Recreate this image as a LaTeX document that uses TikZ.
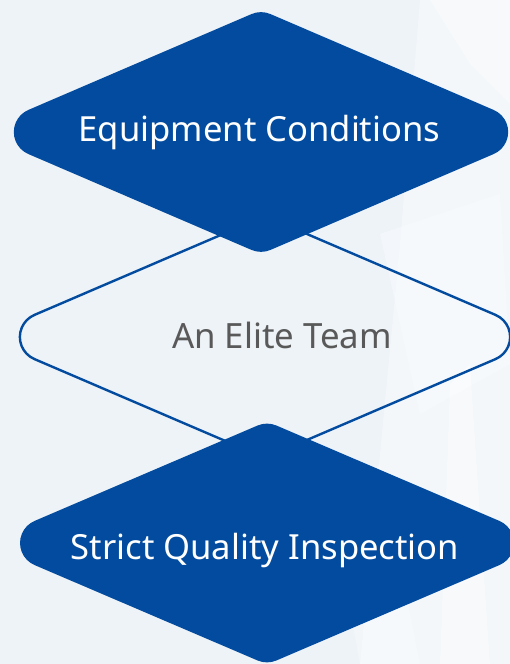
\documentclass[tikz,border=0pt]{standalone}
\usepackage{fontspec}
\setmainfont{Noto Sans}
\usetikzlibrary{calc}
\definecolor{navy}{RGB}{2,75,158}
\definecolor{bgc}{RGB}{238,243,248}
\definecolor{txtgray}{RGB}{89,89,89}
\tikzset{
  filledbox/.style={fill=navy},
  outlinebox/.style={draw=navy, line width=2.4pt},
  whitelabel/.style={text=white, font=\fontsize{34.6}{40}\selectfont, anchor=base, inner sep=0pt},
  graylabel/.style={text=txtgray, font=\fontsize{34.8}{40}\selectfont, anchor=base, inner sep=0pt},
  glass/.style={fill=white, draw=none},
}
% rounded rhombus: #1 cx, #2 cy, #3 half width, #4 half height, #5 style
\newcommand{\rrhombus}[5]{%
  \pgfmathsetmacro\rhAng{atan(#4/#3)}%
  \pgfmathsetmacro\rhTL{24/tan(\rhAng)}%
  \pgfmathsetmacro\rhTT{24*tan(\rhAng)}%
  \path[#5]
    ($(#1-#3,#2)+(\rhAng:\rhTL pt)$)
    -- ($(#1,#2+#4)+(180+\rhAng:\rhTT pt)$)
    arc[start angle=90+\rhAng, end angle=90-\rhAng, radius=24pt]
    -- ($(#1+#3,#2)+(180-\rhAng:\rhTL pt)$)
    arc[start angle=90-\rhAng, end angle=-90+\rhAng, radius=24pt]
    -- ($(#1,#2-#4)+(\rhAng:\rhTT pt)$)
    arc[start angle=-90+\rhAng, end angle=-90-\rhAng, radius=24pt]
    -- ($(#1-#3,#2)+(-\rhAng:\rhTL pt)$)
    arc[start angle=-90-\rhAng, end angle=-270+\rhAng, radius=24pt]
    -- cycle;%
}
\begin{document}
\begin{tikzpicture}[x=1pt, y=1pt]
  % background
  \fill[bgc] (0,0) rectangle (510,664);
  \useasboundingbox (0,0) rectangle (510,664);
  \begin{scope}
    \clip (0,0) rectangle (510,664);
    \fill[glass, opacity=0.35] (360,0) -- (510,0) -- (510,664) -- (420,664) -- (400,420) -- cycle;
    \fill[glass, opacity=0.35] (430,664) -- (510,664) -- (510,560) -- (470,600) -- cycle;
    \fill[glass, opacity=0.3] (380,430) -- (500,470) -- (510,300) -- (420,250) -- cycle;
    \fill[glass, opacity=0.35] (440,0) -- (490,0) -- (470,300) -- (450,280) -- cycle;
    \fill[glass, opacity=0.25] (330,160) -- (360,0) -- (420,0) -- (380,200) -- cycle;
  \end{scope}
  % middle outlined rhombus
  \coordinate (teamc) at (265,327);
  \rrhombus{265}{327}{282}{121}{outlinebox}
  % filled rhombi
  \coordinate (equipc) at (261,532);
  \rrhombus{261}{532}{284}{122}{filledbox}
  \coordinate (qualityc) at (267,121);
  \rrhombus{267}{121}{284}{121.5}{filledbox}
  % labels
  \node[whitelabel] (equip) at (259.5,522) {Equipment Conditions};
  \node[graylabel] (team) at (282,315) {An Elite Team};
  \node[whitelabel] (quality) at (265,104) {Strict Quality Inspection};
\end{tikzpicture}
\end{document}
